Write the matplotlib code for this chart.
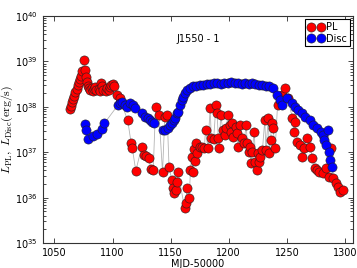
import matplotlib
matplotlib.use('Agg')
import matplotlib.pyplot as plt
import numpy as np

# ---- data (log10 of luminosity in erg/s) ----
pl_mjd = [1063, 1064, 1065, 1066, 1067, 1068, 1069, 1070, 1071, 1072, 1073, 1074, 1075,
          1076, 1077, 1078, 1079, 1080, 1081, 1082, 1083, 1084, 1085, 1086, 1088, 1089,
          1090, 1091, 1092, 1094, 1095, 1097, 1098, 1099, 1100, 1101, 1104, 1106,
          1113, 1116, 1117, 1120, 1125, 1127, 1129, 1131, 1133, 1135, 1137, 1140,
          1143, 1145, 1147, 1148.6, 1151, 1152, 1153, 1154.7, 1155.5, 1156.4,
          1162, 1163, 1164, 1166, 1167, 1168, 1169, 1170, 1171, 1172, 1173, 1175,
          1177, 1179, 1180, 1182, 1184, 1185, 1187, 1189, 1190, 1191, 1192, 1193,
          1195, 1197, 1198, 1199, 1201, 1202, 1203, 1204, 1206, 1207, 1208, 1210,
          1211, 1213, 1215, 1216, 1217, 1218, 1219, 1220, 1222, 1223, 1224, 1225,
          1226, 1227, 1229, 1231, 1232, 1234, 1235, 1236, 1237, 1238, 1240, 1242,
          1246, 1248, 1251, 1254.7, 1256, 1257, 1259, 1261, 1263, 1265, 1267, 1270,
          1272, 1274.5, 1276, 1278, 1281, 1284, 1286, 1288, 1290, 1292, 1294, 1296, 1298]
pl_log = [37.95, 38.03, 38.10, 38.18, 38.25, 38.32, 38.40, 38.48, 38.55, 38.62, 38.68, 38.78, 39.03,
          38.82, 38.66, 38.55, 38.47, 38.42, 38.38, 38.41, 38.36, 38.39, 38.43, 38.37, 38.40, 38.36,
          38.52, 38.45, 38.38, 38.36, 38.42, 38.37, 38.44, 38.48, 38.50, 38.45, 38.26, 38.19,
          37.71, 37.20, 37.09, 36.59, 37.11, 36.94, 36.92, 36.87, 36.63, 36.60, 38.00, 37.82,
          36.56, 37.78, 37.82, 36.67, 36.39, 36.21, 36.10, 36.17, 36.34, 36.56,
          35.77, 35.88, 36.21, 35.99, 36.60, 36.90, 36.56, 37.07, 36.81, 37.20, 36.98, 37.11,
          37.12, 37.10, 37.49, 37.10, 37.97, 37.31, 37.29, 38.04, 37.86, 37.31, 37.10, 37.82,
          37.49, 37.38, 37.53, 37.82, 37.60, 37.45, 37.64, 37.34, 37.55, 37.42, 37.12, 37.60,
          37.31, 37.20, 37.60, 37.20, 37.00, 37.12, 36.76, 37.00, 37.45, 36.78, 36.60, 36.98,
          36.78, 36.90, 37.05, 37.71, 37.05, 37.75, 36.98, 37.27, 37.64, 37.53, 37.10, 38.04,
          38.26, 38.41, 38.20, 37.75, 37.45, 37.67, 37.22, 37.16, 36.90, 37.10, 37.31, 37.12,
          36.87, 36.65, 36.60, 36.57, 36.54, 36.65, 36.45, 37.10, 36.43, 36.32, 36.23, 36.12, 36.17]

disc_mjd = [1076, 1077.5, 1079, 1083, 1087, 1091, 1093,
            1104.7, 1106.4, 1108, 1110.7, 1112.4, 1115, 1117.6, 1119.3, 1125.3, 1127.9,
            1130.5, 1132, 1134, 1135.7, 1143.4, 1145, 1147.8, 1149.5, 1151.2, 1153,
            1153.8, 1155.5, 1156.4, 1158, 1159.8, 1160.7, 1162.4, 1164.1, 1166.7, 1169.3,
            1172, 1175, 1178, 1181, 1184, 1187, 1190, 1193, 1196, 1199, 1202, 1205,
            1208, 1211, 1214, 1217, 1220, 1223, 1226, 1229, 1232, 1235, 1238.3,
            1241.7, 1244.3, 1246, 1250.3, 1254.7, 1257.2, 1260, 1263.3, 1265.9, 1270.2,
            1272.8, 1276.2, 1279, 1281, 1282, 1284, 1285.7, 1286.5, 1287.4, 1289]
disc_log = [37.62, 37.50, 37.30, 37.35, 37.40, 37.52, 37.64,
            38.04, 38.08, 38.10, 38.04, 38.00, 38.08, 38.04, 37.97, 37.86, 37.78,
            37.75, 37.71, 37.67, 37.64, 37.49, 37.49, 37.53, 37.60, 37.64, 37.71,
            37.75, 37.86, 37.89, 38.04, 38.15, 38.22, 38.30, 38.37, 38.41, 38.46,
            38.47, 38.48, 38.48, 38.50, 38.50, 38.52, 38.52, 38.50, 38.52, 38.52, 38.54, 38.52,
            38.52, 38.50, 38.52, 38.50, 38.52, 38.50, 38.48, 38.48, 38.47, 38.46, 38.41,
            38.26, 38.15, 38.04, 38.19, 38.08, 38.00, 37.93, 37.86, 37.78, 37.71,
            37.60, 37.53, 37.45, 37.38, 37.27, 37.16, 37.49, 37.00, 36.83, 36.67]

x_ticks = [1050, 1100, 1150, 1200, 1250, 1300]

plt.rcParams['mathtext.fontset'] = 'cm'
fig = plt.figure(figsize=(3.57, 2.68), dpi=100)
ax = fig.add_axes([0.12, 0.093, 0.869, 0.847])

pl = 10 ** np.array(pl_log)
disc = 10 ** np.array(disc_log)

ax.plot(pl_mjd, pl, '-', color='#b4b4b4', lw=0.6, zorder=1)
ax.plot(disc_mjd, disc, '-', color='#b4b4b4', lw=0.6, zorder=1)
ax.plot(pl_mjd, pl, 'o', ls='none', mfc='#ff0000', mec='#202020', mew=0.4, ms=6.6,
        label='PL', zorder=2)
ax.plot(disc_mjd, disc, 'o', ls='none', mfc='#0000ff', mec='#202020', mew=0.4, ms=6.6,
        label='Disc', zorder=3)

ax.set_yscale('log')
ax.set_xlim(1040, 1307)
ax.set_ylim(1e35, 1e40)
ax.set_xticks(x_ticks)
ax.tick_params(which='both', direction='in', top=True, right=True, labelsize=7)
ax.tick_params(which='major', length=3.5, width=0.5)
ax.tick_params(which='minor', length=2, width=0.5)
for s in ax.spines.values():
    s.set_linewidth(0.8)
    s.set_color('#333333')

ax.set_xlabel('MJD-50000', fontsize=7, labelpad=1)
ax.set_ylabel(r'$L_{\rm PL},\ L_{\rm Disc}({\rm erg/s})$', fontsize=8.5, labelpad=0)
ax.text(0.5, 0.9, 'J1550 - 1', transform=ax.transAxes, ha='center', va='center', fontsize=7)

leg = ax.legend(loc='upper right', numpoints=2, fontsize=7, fancybox=False,
                edgecolor='black', framealpha=1, borderpad=0.25, handletextpad=0.3,
                labelspacing=0.2, handlelength=1.6, borderaxespad=0.35)
leg.get_frame().set_linewidth(0.8)

fig.savefig('out.png', dpi=100)
